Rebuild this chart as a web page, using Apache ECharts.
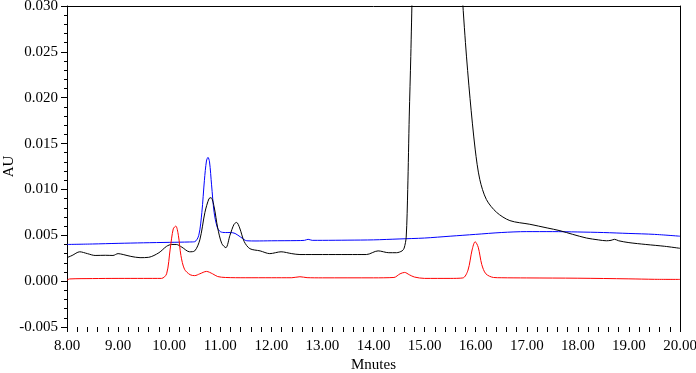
<!DOCTYPE html>
<html>
<head>
<meta charset="utf-8">
<script src="https://cdn.jsdelivr.net/npm/echarts@6/dist/echarts.min.js"></script>
<style>
html, body { margin: 0; padding: 0; background: #fff; }
#chart { width: 696px; height: 373px; }
</style>
</head>
<body>
<div id="chart"></div>
<script>
var xTicks = [8, 20, 1];
var yTicks = [-0.005, 0.030, 0.005];

var blueData = [
    [8.00, 0.0040], [8.5, 0.00405], [9.0, 0.00412], [9.5, 0.00418], [10.0, 0.00423],
    [10.4, 0.00427], [10.5, 0.0043], [10.58, 0.0050], [10.64, 0.0075], [10.69, 0.0110],
    [10.73, 0.0131], [10.76, 0.0135], [10.79, 0.0130], [10.83, 0.0105], [10.88, 0.0075],
    [10.94, 0.0059], [11.0, 0.0054], [11.1, 0.0053], [11.2, 0.0053], [11.29, 0.0052],
    [11.4, 0.0048], [11.52, 0.0044], [11.7, 0.00438], [12.0, 0.00440], [12.5, 0.00442],
    [12.65, 0.00445], [12.72, 0.00456], [12.8, 0.00445], [13.0, 0.00445], [13.5, 0.00447],
    [14.0, 0.0045], [14.5, 0.0046], [15.0, 0.0047], [15.5, 0.0049], [16.0, 0.0051],
    [16.5, 0.0053], [17.0, 0.0054], [17.5, 0.0054], [18.0, 0.00536], [18.5, 0.0053],
    [19.0, 0.0052], [19.5, 0.0051], [20.0, 0.0049]
];

var blackData = [
    [8.0, 0.00256], [8.1, 0.0028], [8.25, 0.0032], [8.4, 0.0030], [8.55, 0.0028],
    [8.75, 0.00282], [8.9, 0.0028], [9.0, 0.0030], [9.1, 0.0029], [9.25, 0.0027],
    [9.43, 0.00256], [9.6, 0.0026], [9.8, 0.0031], [9.95, 0.0038], [10.05, 0.0040],
    [10.14, 0.0040], [10.25, 0.0037], [10.4, 0.0032], [10.5, 0.0033], [10.6, 0.0045],
    [10.7, 0.0075], [10.78, 0.0090], [10.82, 0.0091], [10.88, 0.0081], [10.95, 0.0058],
    [11.03, 0.0041], [11.11, 0.00365], [11.19, 0.0050], [11.27, 0.0062], [11.32, 0.0064],
    [11.38, 0.0058], [11.47, 0.0043], [11.58, 0.00354], [11.78, 0.0033], [11.97, 0.0030],
    [12.19, 0.0032], [12.4, 0.0030], [12.56, 0.0029], [13.0, 0.0029], [13.5, 0.0029],
    [13.86, 0.0029], [14.09, 0.0033], [14.3, 0.0031], [14.45, 0.0031], [14.56, 0.0033],
    [14.6, 0.0036], [14.64, 0.0048], [14.67, 0.0100], [14.70, 0.0180], [14.73, 0.0245],
    [14.76, 0.0320], [14.8, 0.0400], [15.0, 0.0500], [15.5, 0.0500], [15.68, 0.0400],
    [15.72, 0.0330], [15.8, 0.0260], [15.89, 0.0199], [15.99, 0.0144], [16.08, 0.0111],
    [16.21, 0.0089], [16.41, 0.0075], [16.67, 0.0066], [17.06, 0.0062], [17.4, 0.0058],
    [17.65, 0.0055], [17.9, 0.0051], [18.17, 0.0047], [18.4, 0.0045], [18.56, 0.0044],
    [18.65, 0.00445], [18.72, 0.00456], [18.8, 0.0044], [19.0, 0.0042], [19.33, 0.0040],
    [19.7, 0.0038], [20.0, 0.00358]
];

var redData = [
    [8.0, 0.0001], [8.05, 0.00024], [8.5, 0.00028], [9.0, 0.0003], [9.5, 0.0003],
    [9.85, 0.0003], [9.95, 0.0008], [10.02, 0.0035], [10.08, 0.0057], [10.13, 0.0060],
    [10.18, 0.0050], [10.23, 0.0028], [10.3, 0.0013], [10.41, 0.0007], [10.5, 0.0006],
    [10.6, 0.0008], [10.73, 0.00106], [10.85, 0.0008], [10.95, 0.0005], [11.1, 0.0004],
    [11.5, 0.00037], [12.0, 0.00037], [12.4, 0.00037], [12.56, 0.00048], [12.7, 0.00038],
    [13.0, 0.00036], [14.0, 0.00036], [14.4, 0.0004], [14.52, 0.0008], [14.61, 0.00095],
    [14.7, 0.0007], [14.8, 0.00045], [15.0, 0.0003], [15.5, 0.0003], [15.75, 0.00035],
    [15.85, 0.0012], [15.93, 0.0034], [15.99, 0.0043], [16.05, 0.0037], [16.12, 0.0018],
    [16.2, 0.0008], [16.35, 0.0004], [16.5, 0.00037], [17.0, 0.00035], [18.0, 0.00032],
    [19.0, 0.00025], [19.5, 0.0002], [20.0, 0.00019]
];

var font = '"Liberation Serif", "DejaVu Serif", serif';

function line(name, data, color) {
    return {
        name: name, type: 'line', data: data, showSymbol: false, smooth: 0.3,
        clip: true, lineStyle: { color: color, width: 1 }, animation: false
    };
}

var chart = echarts.init(document.getElementById('chart'));
chart.setOption({
    animation: false,
    grid: { left: 67, right: 16, top: 6, bottom: 46, containLabel: false, outerBoundsMode: 'none' },
    xAxis: [{
        type: 'value', min: xTicks[0], max: xTicks[1], interval: xTicks[2],
        name: 'Mnutes', nameLocation: 'middle', nameGap: 31, nameMoveOverlap: false,
        nameTextStyle: { fontFamily: font, fontSize: 15, color: '#000' },
        axisLine: { show: false, onZero: false },
        axisTick: { show: true, length: 5, lineStyle: { color: '#000' } },
        minorTick: { show: true, splitNumber: 5, length: 5, lineStyle: { color: '#000' } },
        splitLine: { show: false },
        axisLabel: {
            fontFamily: font, fontSize: 15, color: '#000', margin: 12,
            formatter: function (v) { return v.toFixed(2); }
        }
    }, {
        type: 'value', position: 'top', min: xTicks[0], max: xTicks[1],
        axisLine: { show: true, onZero: false, lineStyle: { color: '#000' } },
        axisTick: { show: false }, axisLabel: { show: false }, splitLine: { show: false }
    }],
    yAxis: [{
        type: 'value', min: yTicks[0], max: yTicks[1], interval: yTicks[2],
        name: 'AU', nameLocation: 'middle', nameGap: 50, nameRotate: 90, nameMoveOverlap: false,
        nameTextStyle: { fontFamily: font, fontSize: 15, color: '#000' },
        axisLine: { show: true, onZero: false, lineStyle: { color: '#000' } },
        axisTick: { show: true, length: 6, lineStyle: { color: '#000' } },
        minorTick: { show: true, splitNumber: 5, length: 3, lineStyle: { color: '#000' } },
        splitLine: { show: false },
        axisLabel: {
            fontFamily: font, fontSize: 15, color: '#000', margin: 9,
            formatter: function (v) { return v.toFixed(3); }
        }
    }, {
        type: 'value', position: 'right', min: yTicks[0], max: yTicks[1],
        axisLine: { show: true, onZero: false, lineStyle: { color: '#000' } },
        axisTick: { show: false }, axisLabel: { show: false }, splitLine: { show: false }
    }],
    series: [
        line('blue', blueData, '#0000ff'),
        line('black', blackData, '#000000'),
        line('red', redData, '#ff0000')
    ]
});
</script>
</body>
</html>
